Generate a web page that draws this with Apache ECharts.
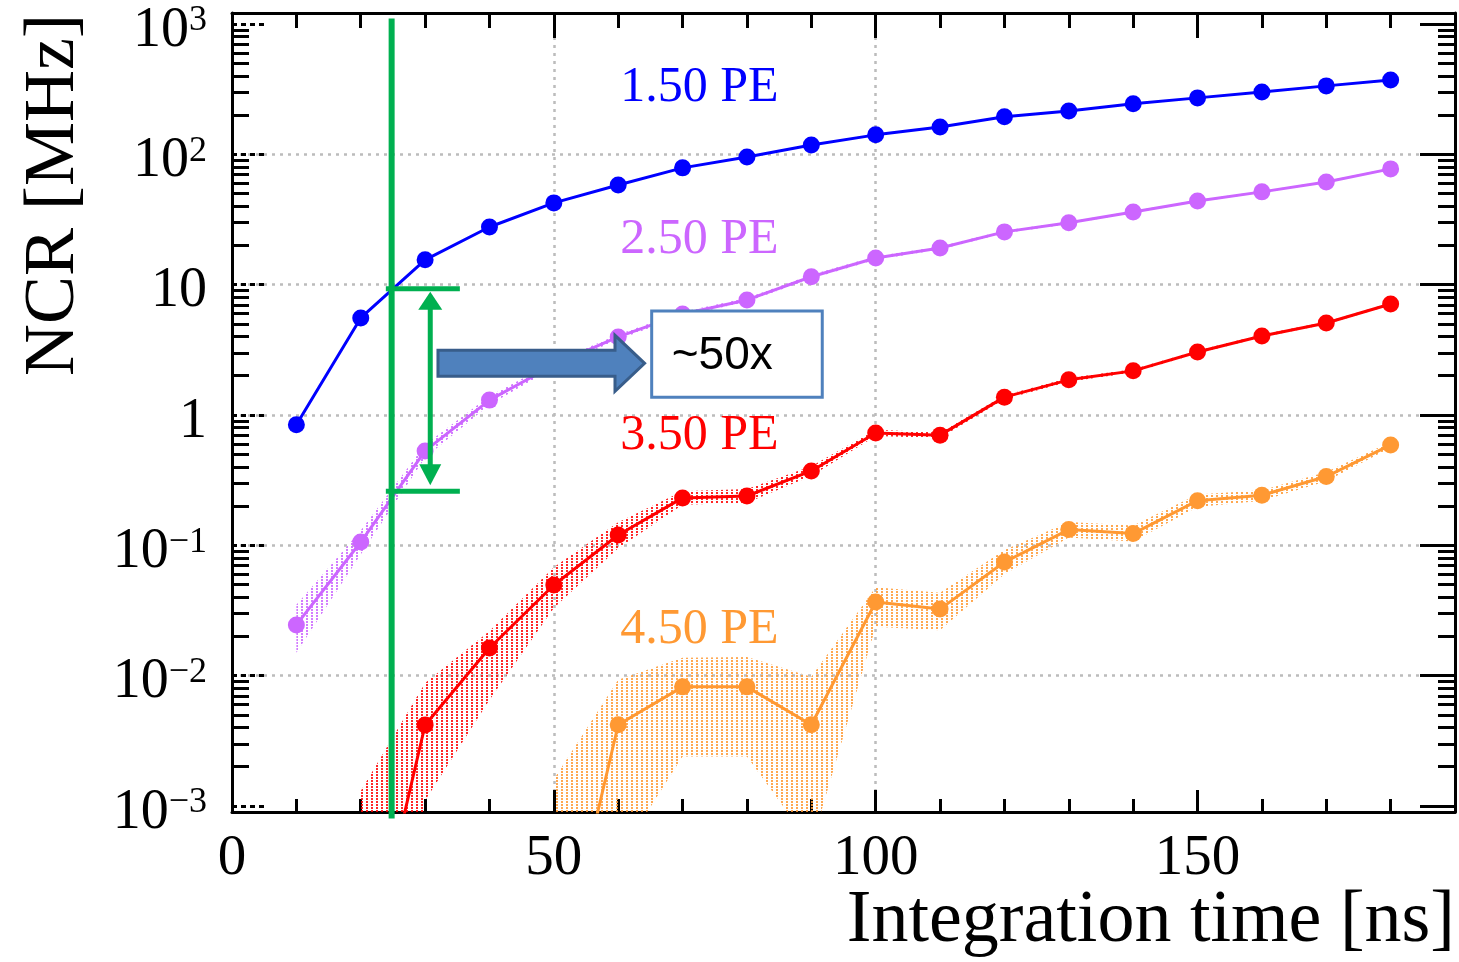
<!DOCTYPE html>
<html><head><meta charset="utf-8">
<script src="https://cdn.jsdelivr.net/npm/echarts@6/dist/echarts.min.js"></script>
<style>html,body{margin:0;padding:0;background:#fff}#c{width:1459px;height:962px}</style>
</head><body><div id="c"></div>
<script>
// ---------------- data ----------------
const times = [10,20,30,40,50,60,70,80,90,100,110,120,130,140,150,160,170,180];
const ncr150 = [0.84,5.55,15.5,27.7,42.4,58.2,78.7,95.5,118,141,162,194,215,244,271,301,335,372];
const ncr250 = [0.0245,0.106,0.53,1.30,2.42,3.97,5.96,7.63,11.5,16.0,19.1,25.4,29.8,36.1,43.9,51.5,61.4,77.3];
const ncr250Lo = [0.015,0.085,0.47,1.20,2.30,3.80,5.75,7.40,11.1,15.5,18.6,24.8,29.2,35.4,43.1,50.6,60.4,76.2];
const ncr250Hi = [0.035,0.13,0.59,1.40,2.55,4.15,6.20,7.90,11.9,16.5,19.6,26.0,30.4,36.8,44.7,52.4,62.4,78.4];
const ncr350 = [null,0.000032,0.00418,0.0163,0.0496,0.12,0.231,0.239,0.372,0.727,0.70,1.37,1.86,2.18,3.04,4.04,5.08,7.11];
const ncr350Lo = [null,0.000001,0.0011,0.0065,0.033,0.095,0.205,0.212,0.34,0.69,0.665,1.32,1.80,2.12,2.96,3.94,4.96,6.96];
const ncr350Hi = [null,0.0013,0.0088,0.022,0.068,0.15,0.26,0.27,0.405,0.77,0.735,1.42,1.92,2.24,3.12,4.14,5.20,7.26];
const ncr450 = [null,null,null,null,0.000033,0.0042,0.0082,0.0082,0.0042,0.0367,0.0324,0.0744,0.132,0.123,0.22,0.242,0.337,0.589];
const ncr450Lo = [null,null,null,null,0.000001,0.0004,0.0024,0.0024,0.0005,0.0237,0.0223,0.060,0.115,0.107,0.197,0.22,0.31,0.56];
const ncr450Hi = [null,null,null,null,0.0016,0.0093,0.0137,0.0139,0.0098,0.0476,0.0432,0.092,0.151,0.142,0.245,0.265,0.365,0.62];

const seriesNames = ['1.50 PE','2.50 PE','3.50 PE','4.50 PE'];
const seriesColors = ['#0000FF','#CC66FF','#FF0000','#FF9933'];
const seriesLabelX = [60,60,60,60];
const seriesLabelY = [323,22,0.69,0.0225];

const xMajorTicks = [0,50,100,150];
const xMinorTicks = [10,20,30,40,60,70,80,90,110,120,130,140,160,170,180];
const yMajorTicks = [0.001,0.01,0.1,1,10,100,1000];
const yTickLabels = ['10^−3','10^−2','10^−1','1','10','10^2','10^3'];
const yMinorTicks = [];
for (let e = -4; e <= 3; e++) for (let m = 2; m <= 9; m++) yMinorTicks.push(m * Math.pow(10, e));

const xMin = 0, xMax = 190;
const yMin = 0.000899, yMax = 1214;

// annotation (data coordinates)
const guideX = 24.8;
const ratioTop = 9.3, ratioBottom = 0.26;
const barX = [23.9, 35.4];
const ratioArrowX = 30.8;
const blockArrow = {x0: 32.0, xHead: 59.5, x1: 64.1, y: 2.49};
const noteBox = {x0: 65.2, x1: 91.7, y0: 6.28, y1: 1.37, text: '~50x'};

// ---------------- chart ----------------
const SERIF = '"Liberation Serif","Times New Roman",serif';
const chart = echarts.init(document.getElementById('c'), null, {renderer: 'canvas'});

function makePattern(color) {
  const c = document.createElement('canvas');
  c.width = 5; c.height = 3;
  const g = c.getContext('2d');
  g.fillStyle = color;
  g.fillRect(1, 0, 2, 2);
  return {image: c, repeat: 'repeat'};
}

function bandSeries(name, lo, hi, color) {
  let first = 0;
  while (lo[first] == null) first++;
  return {
    type: 'custom', name: name + ' band', xAxisIndex: 0, yAxisIndex: 0,
    clip: true, silent: true, z: 1, animation: false,
    data: [[times[first], hi[first]]],
    renderItem: function (params, api) {
      const up = [], dn = [];
      for (let i = 0; i < times.length; i++) {
        if (lo[i] == null || hi[i] == null) continue;
        up.push(api.coord([times[i], hi[i]]));
        dn.push(api.coord([times[i], lo[i]]));
      }
      return {type: 'polygon', shape: {points: up.concat(dn.reverse())},
              style: {fill: makePattern(color), stroke: null, opacity: 0.85}};
    }
  };
}

function lineSeries(idx, vals) {
  return {
    type: 'line', name: seriesNames[idx], xAxisIndex: 0, yAxisIndex: 0,
    data: times.map((t, i) => [t, vals[i]]),
    symbol: 'circle', symbolSize: 17, showSymbol: true, connectNulls: false,
    lineStyle: {width: 3, color: seriesColors[idx]},
    itemStyle: {color: seriesColors[idx]},
    clip: true, z: 3, animation: false, silent: true
  };
}

const gridLine = {show: true, showMinLine: false, showMaxLine: false,
  lineStyle: {color: '#bcbcbc', width: 2.5, type: [3, 5]}};
const black3 = {color: '#000', width: 3};

function yLabelFmt(v) {
  const k = Math.round(Math.log10(v)) + 3;
  const s = yTickLabels[k] || '';
  const parts = s.split('^');
  return parts.length > 1 ? '{b|' + parts[0] + '}{s|' + parts[1] + '}' : '{b|' + parts[0] + '}';
}

const xBase = {type: 'value', min: xMin, max: xMax, gridIndex: 0, offset: 0};
const yBase = {type: 'log', logBase: 10, min: yMin, max: yMax, gridIndex: 0, splitNumber: 6, offset: 0};

const option = {
  animation: false,
  backgroundColor: '#ffffff',
  grid: [{left: 232, right: 4, top: 13, bottom: 150, containLabel: false, outerBoundsMode: 'none', show: false}],
  xAxis: [
    Object.assign({}, xBase, {position: 'bottom', interval: 50,
      axisLine: {show: true, onZero: false, lineStyle: black3},
      axisTick: {show: true, inside: true, length: 22, customValues: xMajorTicks, lineStyle: {color: '#000', width: 3}},
      axisLabel: {show: true, customValues: xMajorTicks, margin: 19, color: '#000', fontFamily: SERIF, fontSize: 57},
      splitLine: gridLine}),
    Object.assign({}, xBase, {position: 'bottom',
      axisLine: {show: false, onZero: false},
      axisTick: {show: true, inside: true, length: 13, customValues: xMinorTicks, lineStyle: {color: '#000', width: 3}},
      axisLabel: {show: false}, splitLine: {show: false}}),
    Object.assign({}, xBase, {position: 'top',
      axisLine: {show: true, onZero: false, lineStyle: black3},
      axisTick: {show: true, inside: true, length: 25, customValues: xMajorTicks, lineStyle: {color: '#000', width: 3}},
      axisLabel: {show: false}, splitLine: {show: false}}),
    Object.assign({}, xBase, {position: 'top',
      axisLine: {show: false, onZero: false},
      axisTick: {show: true, inside: true, length: 15, customValues: xMinorTicks, lineStyle: {color: '#000', width: 3}},
      axisLabel: {show: false}, splitLine: {show: false}})
  ],
  yAxis: [
    Object.assign({}, yBase, {position: 'left',
      axisLine: {show: true, onZero: false, lineStyle: black3},
      axisTick: {show: true, inside: true, length: 33, customValues: yMajorTicks, lineStyle: {color: '#000', width: 3, type: [5, 4]}},
      axisLabel: {show: true, customValues: yMajorTicks, margin: 25, formatter: yLabelFmt,
        padding: [14, 0, 0, 0],
        rich: {
          b: {fontFamily: SERIF, fontSize: 56, color: '#000', lineHeight: 56},
          s: {fontFamily: SERIF, fontSize: 36, color: '#000', verticalAlign: 'top', lineHeight: 56, padding: [0, 0, 18, 0]}
        }},
      splitLine: gridLine}),
    Object.assign({}, yBase, {position: 'left',
      axisLine: {show: false, onZero: false},
      axisTick: {show: true, inside: true, length: 17, customValues: yMinorTicks, lineStyle: {color: '#000', width: 3}},
      axisLabel: {show: false}, splitLine: {show: false}}),
    Object.assign({}, yBase, {position: 'right',
      axisLine: {show: true, onZero: false, lineStyle: black3},
      axisTick: {show: true, inside: true, length: 35, customValues: yMajorTicks, lineStyle: {color: '#000', width: 3}},
      axisLabel: {show: false}, splitLine: {show: false}}),
    Object.assign({}, yBase, {position: 'right',
      axisLine: {show: false, onZero: false},
      axisTick: {show: true, inside: true, length: 17, customValues: yMinorTicks, lineStyle: {color: '#000', width: 3}},
      axisLabel: {show: false}, splitLine: {show: false}})
  ],
  series: [
    bandSeries(seriesNames[1], ncr250Lo, ncr250Hi, seriesColors[1]),
    bandSeries(seriesNames[2], ncr350Lo, ncr350Hi, seriesColors[2]),
    bandSeries(seriesNames[3], ncr450Lo, ncr450Hi, seriesColors[3]),
    lineSeries(0, ncr150),
    lineSeries(1, ncr250),
    lineSeries(2, ncr350),
    lineSeries(3, ncr450)
  ]
};
chart.setOption(option);

// ---------------- annotations (positioned via the axes) ----------------
const P = (x, y) => chart.convertToPixel({xAxisIndex: 0, yAxisIndex: 0}, [x, y]);
const GREEN = '#00B050';
const g = [];

// series labels
seriesNames.forEach((n, i) => {
  const p = P(seriesLabelX[i], seriesLabelY[i]);
  g.push({type: 'text', x: p[0] + 2, y: p[1], z: 50,
    style: {text: n, fill: seriesColors[i], font: '50px ' + SERIF, align: 'left', verticalAlign: 'middle'}});
});

// axis titles
g.push({type: 'text', x: 1455, y: 922, z: 50,
  style: {text: 'Integration time [ns]', fill: '#000', font: '74px ' + SERIF, align: 'right', verticalAlign: 'middle'}});
g.push({type: 'text', x: 54, y: 195, rotation: Math.PI / 2, z: 50,
  style: {text: 'NCR [MHz]', fill: '#000', font: '72px ' + SERIF, align: 'center', verticalAlign: 'middle'}});

// green guide
const vA = P(guideX, 1100), vB = P(guideX, 0.0008);
g.push({type: 'line', z: 60, shape: {x1: vA[0], y1: vA[1], x2: vB[0], y2: vB[1]}, style: {stroke: GREEN, lineWidth: 6}});
[ratioTop, ratioBottom].forEach(v => {
  const a = P(barX[0], v), b = P(barX[1], v);
  g.push({type: 'line', z: 60, shape: {x1: a[0], y1: a[1], x2: b[0], y2: b[1]}, style: {stroke: GREEN, lineWidth: 5}});
});
const dA = P(ratioArrowX, ratioTop), dB = P(ratioArrowX, ratioBottom);
g.push({type: 'line', z: 60, shape: {x1: dA[0], y1: dA[1] + 14, x2: dB[0], y2: dB[1] - 14}, style: {stroke: GREEN, lineWidth: 5}});
g.push({type: 'polygon', z: 60, shape: {points: [[dA[0], dA[1] + 3], [dA[0] - 12, dA[1] + 21], [dA[0] + 12, dA[1] + 21]]}, style: {fill: GREEN}});
g.push({type: 'polygon', z: 60, shape: {points: [[dB[0], dB[1] - 6], [dB[0] - 11, dB[1] - 27], [dB[0] + 11, dB[1] - 27]]}, style: {fill: GREEN}});

// blue block arrow
const bA = P(blockArrow.x0, blockArrow.y), bH = P(blockArrow.xHead, blockArrow.y), bT = P(blockArrow.x1, blockArrow.y);
const cy = bA[1];
g.push({type: 'polygon', z: 55, shape: {points: [
  [bA[0], cy - 13], [bH[0], cy - 13], [bH[0], cy - 28], [bT[0], cy], [bH[0], cy + 28], [bH[0], cy + 13], [bA[0], cy + 13]]},
  style: {fill: '#4F81BD', stroke: '#385D8A', lineWidth: 3}});

// note box
const n0 = P(noteBox.x0, noteBox.y0), n1 = P(noteBox.x1, noteBox.y1);
g.push({type: 'rect', z: 55, shape: {x: n0[0], y: n0[1], width: n1[0] - n0[0], height: n1[1] - n0[1]},
  style: {fill: '#fff', stroke: '#4F81BD', lineWidth: 3}});
g.push({type: 'text', z: 56, x: n0[0] + 20, y: (n0[1] + n1[1]) / 2 + 2,
  style: {text: noteBox.text, fill: '#000', font: '46px "Liberation Sans", Arial, sans-serif', align: 'left', verticalAlign: 'middle'}});

chart.setOption({graphic: {elements: g}});
</script>
</body></html>
